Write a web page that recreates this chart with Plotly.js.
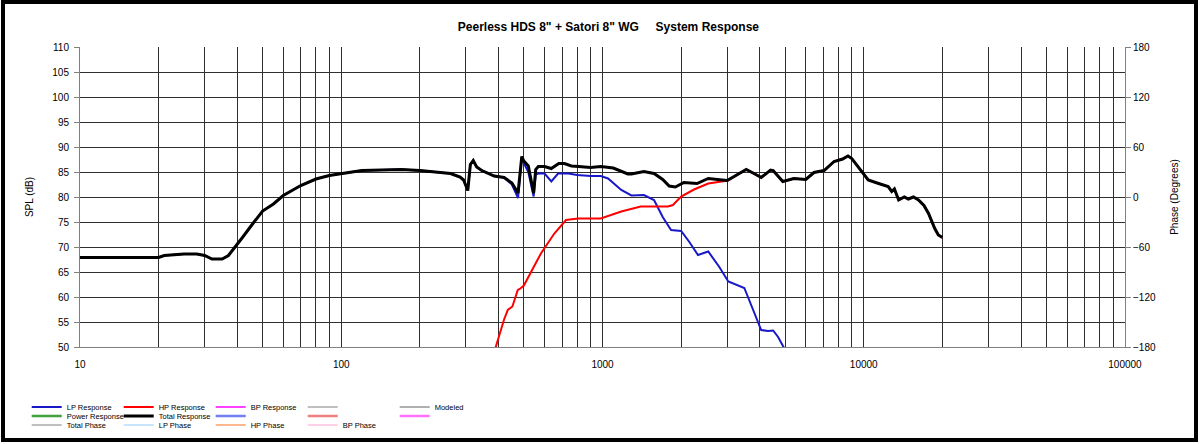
<!DOCTYPE html>
<html>
<head>
<meta charset="utf-8">
<script src="https://cdn.plot.ly/plotly-3.0.1.min.js"></script>
<style>
  body { margin: 0; background: #fff; }
  #chart { width: 1200px; height: 444px; }
</style>
</head>
<body>
<div id="chart"></div>
<script>
// total system response (black)
var totalFreq = [10, 20, 21, 25, 28, 30, 32, 35, 37, 40, 42, 45, 50, 55, 60, 70, 80, 90, 100, 110, 120, 145, 170, 200, 225, 262, 285, 294, 305, 312, 320, 330, 345, 385, 420, 450, 475, 485, 491, 500, 520, 545, 555, 568, 600, 637, 660, 680, 715, 760, 810, 900, 985, 1100, 1250, 1290, 1440, 1575, 1700, 1800, 1900, 2000, 2050, 2300, 2540, 3000, 3200, 3550, 3800, 4050, 4400, 4500, 4900, 5400, 6000, 6450, 7050, 7700, 8300, 8700, 9000, 9500, 10400, 11400, 12400, 12800, 13100, 13600, 14300, 14800, 15500, 16200, 17000, 17700, 18700, 19300, 20000];
var totalSpl = [67.9, 67.9, 68.3, 68.6, 68.6, 68.3, 67.6, 67.6, 68.3, 70.5, 72.0, 74.1, 77.2, 78.6, 80.3, 82.3, 83.6, 84.3, 84.6, 85.0, 85.3, 85.4, 85.5, 85.3, 85.1, 84.7, 84.0, 83.4, 81.3, 86.5, 87.3, 86.0, 85.3, 84.2, 83.9, 82.8, 80.8, 85.5, 88.1, 87.2, 86.2, 80.8, 85.5, 86.1, 86.1, 85.7, 86.3, 86.7, 86.7, 86.2, 86.1, 85.9, 86.1, 85.8, 84.6, 84.6, 85.1, 84.7, 83.5, 82.2, 82.0, 82.6, 82.9, 82.7, 83.7, 83.3, 84.1, 85.5, 84.7, 83.9, 85.4, 85.3, 83.1, 83.7, 83.5, 84.9, 85.3, 87.1, 87.6, 88.2, 87.7, 86.1, 83.4, 82.7, 82.1, 81.1, 81.6, 79.4, 80.0, 79.6, 80.0, 79.4, 78.3, 76.7, 73.7, 72.4, 71.9];

// low pass section (blue)
var lpFreq = [10, 20, 21, 25, 28, 30, 32, 35, 37, 40, 42, 45, 50, 55, 60, 70, 80, 90, 100, 110, 120, 145, 170, 200, 225, 262, 285, 294, 305, 312, 320, 330, 345, 385, 420, 450, 475, 485, 491, 500, 520, 545, 555, 568, 600, 637, 676, 740, 800, 900, 985, 1050, 1180, 1290, 1440, 1575, 1700, 1830, 2000, 2150, 2320, 2540, 2800, 3030, 3300, 3490, 3800, 4050, 4300, 4500, 4700, 4920, 5050];
var lpSpl = [67.9, 67.9, 68.3, 68.6, 68.6, 68.3, 67.6, 67.6, 68.3, 70.5, 72.0, 74.1, 77.2, 78.6, 80.3, 82.3, 83.6, 84.3, 84.6, 85.0, 85.3, 85.4, 85.5, 85.3, 85.1, 84.7, 84.0, 83.4, 81.3, 86.5, 87.3, 86.0, 85.3, 84.2, 83.9, 82.5, 79.8, 85.5, 88.0, 86.8, 85.0, 80.1, 84.5, 84.7, 84.7, 83.1, 84.7, 84.7, 84.4, 84.2, 84.2, 83.7, 81.4, 80.3, 80.4, 79.4, 76.0, 73.4, 73.2, 71.0, 68.4, 69.1, 66.0, 63.1, 62.4, 61.8, 57.0, 53.4, 53.2, 53.3, 52.0, 50.1, 49.0];

// high pass section (red)
var hpFreq = [380, 391, 408, 420, 434, 452, 474, 485, 500, 533, 581, 654, 725, 806, 985, 1180, 1400, 1780, 1860, 2000, 2240, 2540, 3025, 3200, 3550, 3800, 4050, 4400, 4500, 4900, 5400, 6000, 6450, 7050, 7700, 8300, 8700, 9000, 9500, 10400, 11400, 12400, 12800, 13100, 13600, 14300, 14800, 15500, 16200, 17000, 17700, 18700, 19300, 20000];
var hpSpl = [48.0, 50.1, 53.4, 55.5, 57.4, 58.1, 61.4, 61.7, 62.3, 65.1, 68.7, 72.7, 75.4, 75.7, 75.7, 77.1, 78.1, 78.1, 78.4, 80.1, 81.5, 82.7, 83.3, 84.1, 85.5, 84.7, 83.9, 85.4, 85.3, 83.1, 83.7, 83.5, 84.9, 85.3, 87.1, 87.6, 88.2, 87.7, 86.1, 83.4, 82.7, 82.1, 81.1, 81.6, 79.4, 80.0, 79.6, 80.0, 79.4, 78.3, 76.7, 73.7, 72.4, 71.9];

// x axis grid (1..9 per decade) and labels
var decades = [10, 100, 1000, 10000];
var xTickVals = [];
var xTickText = [];
decades.forEach(function (d) {
  for (var n = 1; n <= 9; n++) {
    xTickVals.push(n * d);
    xTickText.push(n === 1 ? String(d) : '');
  }
});
xTickVals.push(100000);
xTickText.push('100000');

var empty = [null];

function tr(name, x, y, color, width, legend, yaxis) {
  return {
    x: x, y: y, name: name, type: 'scatter', mode: 'lines',
    line: {color: color, width: width},
    legend: legend, yaxis: yaxis || 'y', hoverinfo: 'skip'
  };
}

var data = [
  tr('LP Response', lpFreq, lpSpl, '#1818c8', 2, 'legend'),
  tr('HP Response', hpFreq, hpSpl, '#ff0000', 2, 'legend'),
  tr('BP Response', empty, empty, '#ff00ff', 1.5, 'legend'),
  tr('', empty, empty, '#808080', 1, 'legend'),
  tr('Modeled', empty, empty, '#606060', 1, 'legend'),
  tr('Power Response', empty, empty, '#40a040', 2.5, 'legend2'),
  tr('Total Response', totalFreq, totalSpl, '#000000', 3, 'legend2'),
  tr('', empty, empty, '#7080f0', 2.5, 'legend2'),
  tr('', empty, empty, '#f08080', 2.5, 'legend2'),
  tr('', empty, empty, '#ff70ff', 2.5, 'legend2'),
  tr('Total Phase', empty, empty, '#808080', 1, 'legend3', 'y2'),
  tr('LP Phase', empty, empty, '#90c8ff', 1, 'legend3', 'y2'),
  tr('HP Phase', empty, empty, '#ff7020', 1, 'legend3', 'y2'),
  tr('BP Phase', empty, empty, '#ffa0d0', 1, 'legend3', 'y2')
];

var font = {family: 'Liberation Sans, Arial, sans-serif', size: 10, color: '#000'};

function legendRow(yPx) {
  return {
    orientation: 'h', x: -0.051, xanchor: 'left',
    y: (347 - yPx) / 300, yanchor: 'middle',
    entrywidth: 47, entrywidthmode: 'pixels',
    font: {family: 'Liberation Sans, Arial, sans-serif', size: 7.5, color: '#000'},
    bgcolor: 'rgba(0,0,0,0)', borderwidth: 0, itemclick: false
  };
}

var layout = {
  width: 1200, height: 444,
  margin: {l: 80, r: 75, t: 47, b: 97, autoexpand: false},
  paper_bgcolor: '#fff', plot_bgcolor: '#fff',
  font: font,
  title: {
    text: '<b>Peerless HDS 8" + Satori 8" WG     System Response</b>',
    font: {family: 'Liberation Sans, Arial, sans-serif', size: 12, color: '#000'},
    x: 0.507, xref: 'container', y: 1 - 27 / 444, yanchor: 'middle'
  },
  xaxis: {
    type: 'log', range: [1, 5],
    tickvals: xTickVals, ticktext: xTickText,
    ticks: '', showgrid: true, gridcolor: '#303030', gridwidth: 1,
    showline: true, linecolor: '#808080', linewidth: 1,
    zeroline: false, ticklabelstandoff: 8, tickfont: font
  },
  yaxis: {
    range: [50, 110], dtick: 5, tick0: 50,
    ticks: 'outside', ticklen: 5, tickcolor: '#808080',
    showgrid: true, gridcolor: '#303030', gridwidth: 1,
    showline: true, linecolor: '#808080', linewidth: 1, zeroline: false,
    title: {text: 'SPL (dB)', font: font, standoff: 16},
    tickfont: font, ticklabelstandoff: 3
  },
  yaxis2: {
    overlaying: 'y', side: 'right', range: [-180, 180], dtick: 60, tick0: -180,
    ticks: 'outside', ticklen: 5, tickcolor: '#808080',
    showgrid: false, zeroline: false,
    showline: true, linecolor: '#808080', linewidth: 1,
    title: {text: 'Phase (Degrees)', font: font, standoff: 16},
    tickfont: font
  },
  showlegend: true,
  legend: legendRow(407),
  legend2: legendRow(416),
  legend3: legendRow(425),
  shapes: [{
    type: 'rect', xref: 'paper', yref: 'paper',
    x0: (3 - 80) / 1045, x1: (1196 - 80) / 1045,
    y0: (347 - 440) / 300, y1: (347 - 2) / 300,
    line: {color: '#000', width: 4}, fillcolor: 'rgba(0,0,0,0)', layer: 'above'
  }]
};

Plotly.newPlot('chart', data, layout, {staticPlot: true, displayModeBar: false});
</script>
</body>
</html>
